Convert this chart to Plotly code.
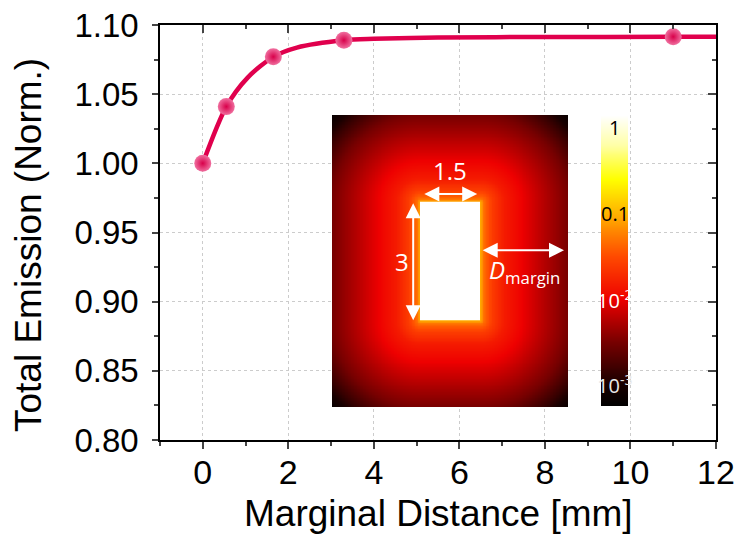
import numpy as np
import plotly.graph_objects as go

# ---------------- data ----------------
dist_mm = [0, 0.55, 1.65, 3.3, 11.0]
emission = [1.000, 1.041, 1.077, 1.089, 1.0915]

fit_x = [0, 0.55, 1.05, 1.65, 2.2, 3.3, 4.0, 5.5, 8.0, 11.0, 12.0]
fit_y = [1.000, 1.041, 1.062, 1.077, 1.0837, 1.089, 1.090, 1.091, 1.0913, 1.0915, 1.0915]

x_ticks = [0, 2, 4, 6, 8, 10, 12]
y_ticks = [0.80, 0.85, 0.90, 0.95, 1.00, 1.05, 1.10]

# inset: emission falloff profile (log10 intensity vs. distance from emitter edge, mm)
profile_d = [0, 0.1, 0.3, 0.6, 1.0, 1.5, 2.2, 2.7, 3.2]
profile_log = [-1.0, -1.35, -1.6, -1.82, -1.98, -2.2, -2.5, -2.85, -3.25]
emitter_w, emitter_h = 1.5, 3.0
margin_mm = 2.2
cbar_labels = ["1", "0.1", "10<sup>-2</sup>", "10<sup>-3</sup>"]
cbar_vals = [0, -1, -2, -3]
cbar_label_colors = ["black", "black", "white", "#e8e8e8"]

# ---------------- styling ----------------
CRIMSON = "#E0004D"
FONT = "Liberation Sans, Arial, sans-serif"
ZMIN, ZMAX = -3.25, 0.15
hot = [
    [0.0, "#000000"], [0.074, "#180000"], [0.22, "#760000"], [0.368, "#ee0000"],
    [0.515, "#ff4a00"], [0.66, "#ffb000"], [0.78, "#ffff00"], [0.9, "#ffffa8"],
    [1.0, "#ffffff"],
]

fig = go.Figure()

# main curve + points
fig.add_trace(go.Scatter(x=fit_x, y=fit_y, mode="lines",
                         line=dict(color=CRIMSON, width=4.5, shape="spline", smoothing=0.8),
                         hoverinfo="skip", showlegend=False))
fig.add_trace(go.Scatter(x=dist_mm, y=emission, mode="markers",
                         marker=dict(size=17, color="#f070a0",
                                     gradient=dict(type="radial", color="#d8004a"),
                                     line=dict(width=0)),
                         showlegend=False))

# inset heatmap (distance field around emitter rectangle)
half_x = emitter_w / 2 + margin_mm
half_y = emitter_h / 2 + margin_mm
gx = np.linspace(-half_x, half_x, 160)
gy = np.linspace(-half_y, half_y, 200)
GX, GY = np.meshgrid(gx, gy)
dx = np.maximum(np.abs(GX) - emitter_w / 2, 0)
dy = np.maximum(np.abs(GY) - emitter_h / 2, 0)
D = np.sqrt(dx ** 2 + dy ** 2)
Z = np.interp(D, profile_d, profile_log)
fig.add_trace(go.Heatmap(x=gx, y=gy, z=Z, xaxis="x2", yaxis="y2",
                         colorscale=hot, zmin=ZMIN, zmax=ZMAX, showscale=False,
                         zsmooth="best", hoverinfo="skip"))

# inset colour bar
cb_levels = np.linspace(ZMIN, ZMAX, 60)
fig.add_trace(go.Heatmap(x=[0, 1], y=cb_levels, z=[[v, v] for v in cb_levels],
                         xaxis="x3", yaxis="y3", colorscale=hot, zmin=ZMIN, zmax=ZMAX,
                         showscale=False, zsmooth="best", hoverinfo="skip"))

# dummy traces for mirrored (inside) tick axes
fig.add_trace(go.Scatter(x=[None], y=[None], xaxis="x4", yaxis="y", showlegend=False))
fig.add_trace(go.Scatter(x=[None], y=[None], xaxis="x", yaxis="y4", showlegend=False))

L, R, T, B = 160, 24, 25, 98
pw, ph = 740 - L - R, 538 - T - B

def dx_(px0, px1):
    return [(px0 - L) / pw, (px1 - L) / pw]

def dy_(py_top, py_bot):
    return [(538 - B - py_bot) / ph, (538 - B - py_top) / ph]

axis_common = dict(showline=True, linecolor="black", linewidth=1.5, zeroline=False,
                   automargin=False)

fig.update_layout(
    width=740, height=538, margin=dict(l=L, r=R, t=T, b=B),
    plot_bgcolor="white", paper_bgcolor="white",
    xaxis=dict(range=[-1, 12], tickvals=x_ticks, ticks="outside", ticklen=7, tickwidth=1.5,
               ticklabelstandoff=-6, tickfont=dict(family=FONT, size=34, color="black"),
               minor=dict(dtick=1, tick0=0, ticks="outside", ticklen=4, tickwidth=1.5, showgrid=False),
               showgrid=True, gridcolor="#cccccc", griddash="dot", gridwidth=1,
               **axis_common),
    yaxis=dict(range=[0.8, 1.1], tickvals=y_ticks, tickformat=".2f", ticks="outside", ticklen=6,
               tickwidth=1.5, ticklabelstandoff=7, tickfont=dict(family=FONT, size=33, color="black"),
               minor=dict(dtick=0.025, tick0=0.8, ticks="outside", ticklen=4, tickwidth=1.5, showgrid=False),
               showgrid=True, gridcolor="#cccccc", griddash="dot", gridwidth=1,
               **axis_common),
    xaxis4=dict(range=[-1, 12], overlaying="x", side="top", anchor="y", tickvals=x_ticks,
                ticks="inside", ticklen=8, tickwidth=1.5, showticklabels=False, showgrid=False,
                minor=dict(dtick=1, tick0=0, ticks="inside", ticklen=4, tickwidth=1.5),
                showline=True, linecolor="black", linewidth=1.5, zeroline=False, automargin=False),
    yaxis4=dict(range=[0.8, 1.1], overlaying="y", side="right", anchor="x", tickvals=y_ticks,
                ticks="inside", ticklen=8, tickwidth=1.5, showticklabels=False, showgrid=False,
                minor=dict(dtick=0.025, tick0=0.8, ticks="inside", ticklen=4, tickwidth=1.5),
                showline=True, linecolor="black", linewidth=1.5, zeroline=False, automargin=False),
    xaxis2=dict(domain=dx_(332, 568), range=[-half_x, half_x], anchor="y2", visible=False),
    yaxis2=dict(domain=dy_(115, 407), range=[-half_y, half_y], anchor="x2", visible=False),
    xaxis3=dict(domain=dx_(601, 628), range=[-0.5, 1.5], anchor="y3", visible=False),
    yaxis3=dict(domain=dy_(115, 406), range=[ZMIN, ZMAX], anchor="x3", visible=False),
)

# axis titles (placed as paper annotations)
fig.add_annotation(x=(438 - L) / pw, y=-(513 - (538 - B)) / ph, xref="paper", yref="paper",
                   xanchor="center", yanchor="middle",
                   text="Marginal Distance [mm]", showarrow=False,
                   font=dict(family=FONT, size=37, color="black"))
fig.add_annotation(x=-(L - 29) / pw, y=(538 - B - 245) / ph, xref="paper", yref="paper",
                   xanchor="center", yanchor="middle",
                   text="Total Emission (Norm.)", showarrow=False, textangle=-90,
                   font=dict(family=FONT, size=37, color="black"))

# emitter rectangle
fig.add_shape(type="rect", xref="x2", yref="y2", x0=-emitter_w / 2, x1=emitter_w / 2,
              y0=-emitter_h / 2, y1=emitter_h / 2, fillcolor="white", line=dict(width=0),
              layer="above")

ann_font = dict(family="Open Sans, Lato, sans-serif", size=24, color="white")
arrow_kw = dict(xref="x2", yref="y2", axref="x2", ayref="y2", text="", showarrow=True,
                arrowhead=2, startarrowhead=2, arrowside="end+start", arrowsize=1.5,
                startarrowsize=1.5, arrowwidth=2, arrowcolor="white")
# width arrow
fig.add_annotation(x=0.68, y=1.7, ax=-0.68, ay=1.7, **arrow_kw)
fig.add_annotation(x=0, y=2.3, xref="x2", yref="y2", text="1.5", showarrow=False, font=ann_font)
# height arrow
fig.add_annotation(x=-0.92, y=-1.5, ax=-0.92, ay=1.5, **arrow_kw)
fig.add_annotation(x=-1.2, y=0, xref="x2", yref="y2", text="3", showarrow=False, font=ann_font)
# margin arrow
fig.add_annotation(x=2.85, y=0.27, ax=0.78, ay=0.27, **arrow_kw)
fig.add_annotation(x=1.85, y=-0.25, xref="x2", yref="y2",
                   text="<i>D</i><sub>margin</sub>", showarrow=False, font=ann_font)

# colour bar labels
for lab, v, c in zip(cbar_labels, cbar_vals, cbar_label_colors):
    fig.add_annotation(x=0.5, y=v, xref="x3", yref="y3", text=lab, showarrow=False,
                       font=dict(family="Open Sans, Lato, sans-serif", size=20, color=c))

fig.write_html("out.html")
